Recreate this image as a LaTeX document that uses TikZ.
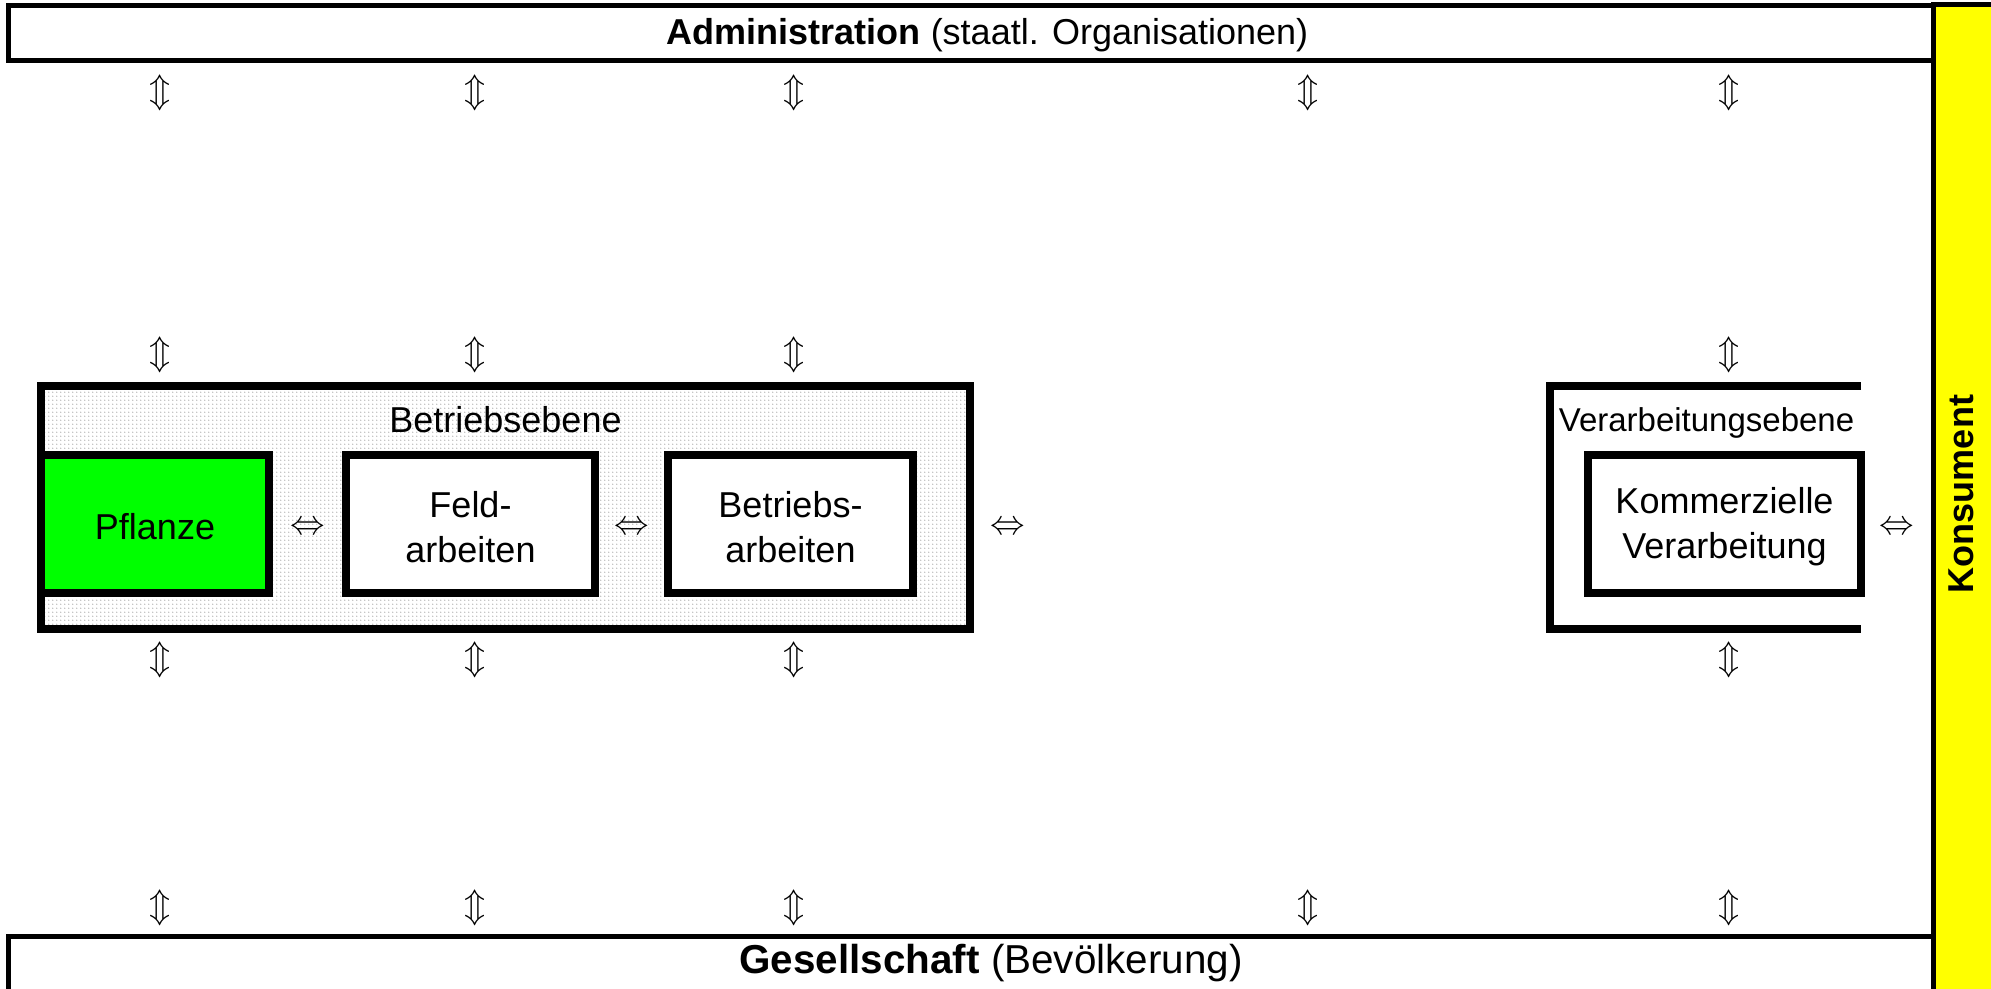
\documentclass[tikz,border=0pt]{standalone}
\usepackage{fontspec}
\setmainfont{Liberation Sans}
\usetikzlibrary{patterns.meta}

\definecolor{leafgreen}{RGB}{0,255,0}
\definecolor{konsumyellow}{RGB}{255,255,0}

\newcommand\myboxfont{\fontsize{18}{22.5}\selectfont}

% fine grey dot raster for the farm level
\tikzdeclarepattern{
  name=finedots,
  type=uncolored,
  bounding box={(0,0) and (2pt,2pt)},
  tile size={(2pt,2pt)},
  code={\fill (0.5pt,0.5pt) circle (0.35pt);}
}

\begin{document}
\begin{tikzpicture}[x=0.5pt,y=-0.5pt,
  bar/.style={draw, line width=2.5pt},
  frame/.style={draw, line width=4pt},
  box/.style={draw, line width=4pt, minimum height=69pt, inner sep=0pt},
  boxtext/.style={align=center, font=\myboxfont, inner sep=0pt},
  level/.style={anchor=base},
  vv/.style={font=\fontsize{16}{16}\selectfont, inner sep=0pt},
]
\useasboundingbox (0,0) rectangle (1991,989);
\clip (0,0) rectangle (1991,989);

% administration and society bars, consumer column
\draw[bar, fill=white] (8,6) rectangle (1933,60.5);
\draw[bar, fill=white] (8,936) rectangle (1933,1000);
\draw[bar, fill=konsumyellow] (1933,5) rectangle (2000,1000);

\node[level, font=\fontsize{18}{18}\selectfont] (admin) at (987.5,45)
  {\textbf{Administration} (staatl. Organisationen)};
\node[level, font=\fontsize{20.2}{20.2}\selectfont] (gesell) at (991,973)
  {\textbf{Gesellschaft} (Bevölkerung)};
\node[rotate=90, font=\bfseries\fontsize{18}{18}\selectfont] (konsum) at (1961,494)
  {Konsument};

% farm level
\draw[frame, pattern={finedots}, pattern color=gray!90] (41,386) rectangle (970,629);
\node[level, font=\myboxfont] (betriebsebene) at (505.5,432) {Betriebsebene};

\node[box, fill=leafgreen, minimum width=114pt] (pflanze) at (155,524) {};
\node[box, fill=white, minimum width=124.5pt] (feld) at (470.5,524) {};
\node[box, fill=white, minimum width=122.5pt] (betrieb) at (790.5,524) {};
\node[boxtext] (pflanzetext) at ([yshift=-1.5pt]pflanze.center) {Pflanze};
\node[boxtext] (feldtext) at ([yshift=-1.5pt]feld.center) {Feld-\\arbeiten};
\node[boxtext] (betriebtext) at ([yshift=-1.5pt]betrieb.center) {Betriebs-\\arbeiten};

% processing level (open to the right)
\draw[frame] (1861,386) -- (1550,386) -- (1550,629) -- (1861,629);
\node[level, font=\fontsize{16.5}{16.5}\selectfont] (verarbeitungsebene) at (1706.5,431)
  {Verarbeitungsebene};
\node[box, fill=white, minimum width=136.5pt] (komm) at (1724.5,524) {};
\node[boxtext] (kommtext) at ([yshift=-1.5pt]komm.center) {Kommerzielle\\Verarbeitung};

% horizontal interactions
\foreach \x/\n in {308/h1, 632/h2, 1008/h3, 1897/h4}
  \node[vv] (\n) at (\x,528) {$\Leftrightarrow$};

% vertical interactions
\foreach \x/\c in {160/a, 475/b, 794/c, 1729/e}
  \foreach \y/\r in {93/1, 355/2, 660/3, 908/4}
    \node[vv] (v\c\r) at (\x,\y) {$\Updownarrow$};
\foreach \y/\r in {93/1, 908/4}
  \node[vv] (vd\r) at (1308,\y) {$\Updownarrow$};
\end{tikzpicture}
\end{document}
